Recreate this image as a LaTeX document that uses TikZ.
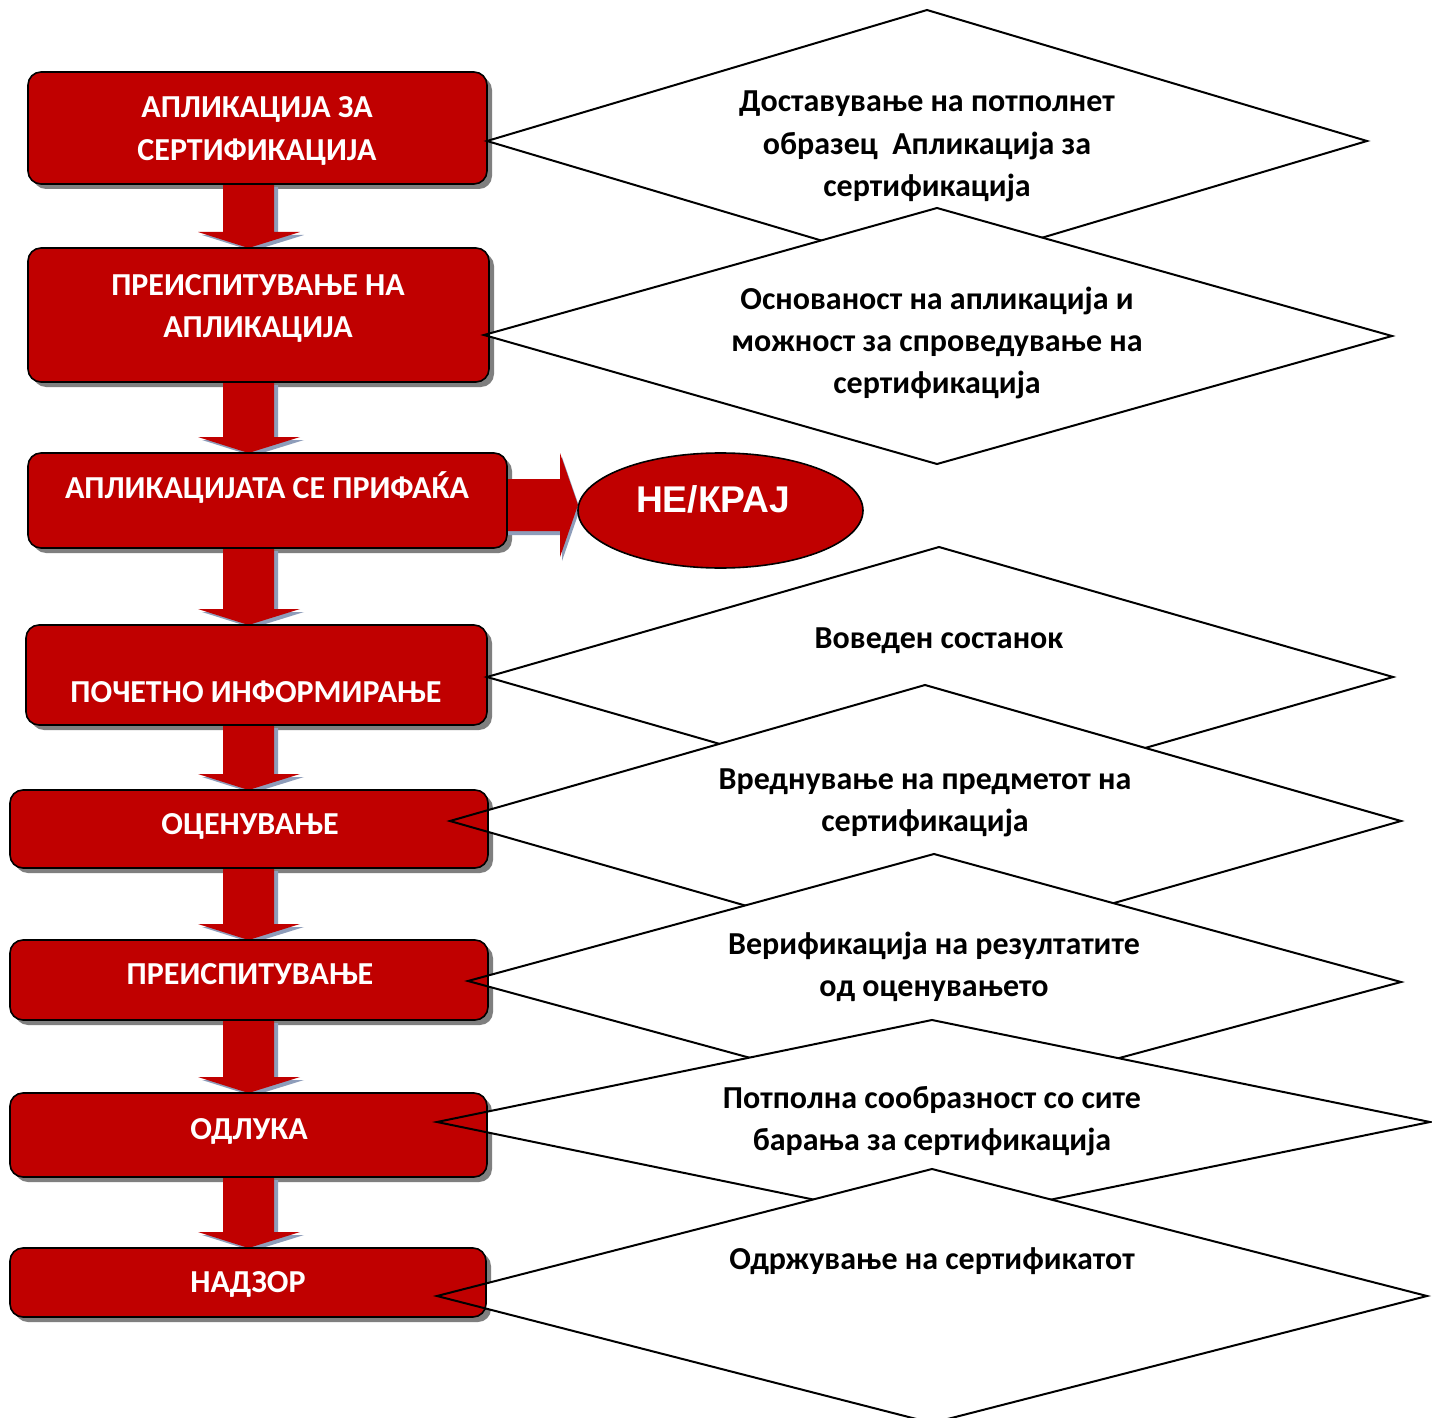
\documentclass[tikz,border=0pt]{standalone}
\usepackage{fontspec}
\newfontfamily\carlito{Carlito}
\newfontfamily\arialf{Liberation Sans}
\usetikzlibrary{calc,shapes.geometric}
\pgfdeclarelayer{bg}
\pgfdeclarelayer{bshadow}
\pgfdeclarelayer{arrowl}
\pgfdeclarelayer{diam}
\pgfdeclarelayer{top}
\pgfsetlayers{bg,bshadow,arrowl,diam,main,top}
\definecolor{boxred}{HTML}{C00000}
\definecolor{shadowgray}{HTML}{7F7F7F}
\definecolor{arrowshadow}{HTML}{8E9DBA}
\tikzset{
  box/.style={draw=black, line width=0.8pt, fill=boxred, rounded corners=6.5pt, inner sep=0pt, outer sep=0pt},
  boxtext/.style={text=white, font=\carlito\bfseries\fontsize{16}{19}\selectfont, inner sep=0pt, text height=10.1pt, text depth=0pt},
  dtext/.style={text=black, font=\carlito\bfseries\fontsize{16}{19}\selectfont, inner sep=0pt, text height=10.1pt, text depth=0pt},
  dline/.style={draw=black, line width=1pt, line join=miter},
  dfill/.style={dline, fill=white},
}
\newcommand\rbox[5]{\node[box, minimum width={(#4-#2)*0.5pt}, minimum height={(#5-#3)*0.5pt}] (#1) at ({(#2+#4)/2},{(#3+#5)/2}) {};}
\newcommand\diamondpts[9]{%
  \coordinate (#1-l) at (#2,#3);
  \coordinate (#1-t) at (#4,#5);
  \coordinate (#1-r) at (#6,#7);
  \coordinate (#1-b) at (#8,#9);}
% down block arrow path between two box nodes, with offset #3
\newcommand\downpath[3]{($(ax |- #1.south)+(-25.5,0)+#3$) -- ($(ax |- #1.south)+(25.5,0)+#3$) -- ($(ax |- #2.north)+(25.5,-16)+#3$) -- ($(ax |- #2.north)+(51.5,-16)+#3$) -- ($(ax |- #2.north)+#3$) -- ($(ax |- #2.north)+(-50.5,-16)+#3$) -- ($(ax |- #2.north)+(-25.5,-16)+#3$) -- cycle}
\newcommand\rightpath[1]{($(b3.east |- ay)+(-3,-26)+#1$) -- ($(e.west |- ay)+(-18,-26)+#1$) -- ($(e.west |- ay)+(-18,-52)+#1$) -- ($(e.west |- ay)+#1$) -- ($(e.west |- ay)+(-18,52)+#1$) -- ($(e.west |- ay)+(-18,26)+#1$) -- ($(b3.east |- ay)+(-3,26)+#1$) -- cycle}
\begin{document}
\begin{tikzpicture}[x=0.5pt,y=-0.5pt]
\useasboundingbox (0,0) rectangle (1432,1418);
\begin{pgfonlayer}{bg}
  \fill[white] (0,0) rectangle (1432,1418);
\end{pgfonlayer}

% boxes
\rbox{b1}{28}{72}{487}{184}
\rbox{b2}{28}{248}{489}{382}
\rbox{b3}{28}{453}{507}{548}
\rbox{b4}{26}{625}{487}{725}
\rbox{b5}{10}{790}{488}{868}
\rbox{b6}{10}{940}{488}{1020}
\rbox{b7}{10}{1093}{487}{1177}
\rbox{b8}{10}{1248}{486}{1317}

% end ellipse
\node[ellipse, draw=black, line width=0.8pt, fill=boxred, minimum width=142.5pt, minimum height=57.5pt, inner sep=0pt, outer sep=0pt] (e) at (720.5,510.5) {};
\node[text=white, font=\arialf\bfseries\fontsize{18.6}{21}\selectfont, inner sep=0pt, text height=13.3pt, text depth=0pt] (et) at (713,499) {НЕ/КРАЈ};

% box texts
\node[boxtext] (t1a) at (257,107) {АПЛИКАЦИЈА ЗА};
\node[boxtext] (t1b) at (257,150) {СЕРТИФИКАЦИЈА};
\node[boxtext] (t2a) at (258,285) {ПРЕИСПИТУВАЊЕ НА};
\node[boxtext] (t2b) at (258,327) {АПЛИКАЦИЈА};
\node[boxtext] (t3) at (267,488) {АПЛИКАЦИЈАТА СЕ ПРИФАЌА};
\node[boxtext] (t4) at (256,692) {ПОЧЕТНО ИНФОРМИРАЊЕ};
\node[boxtext] (t5) at (250,824) {ОЦЕНУВАЊЕ};
\node[boxtext] (t6) at (250,974) {ПРЕИСПИТУВАЊЕ};
\node[boxtext] (t7) at (249,1129) {ОДЛУКА};
\node[boxtext] (t8) at (248,1282) {НАДЗОР};

% box shadows
\begin{pgfonlayer}{bshadow}
  \foreach \n in {b1,b2,b3,b4,b5,b6,b7,b8}
    \fill[shadowgray, rounded corners=6.5pt] ($(\n.south west)+(5,5)$) rectangle ($(\n.north east)+(5,5)$);
\end{pgfonlayer}

% block arrows
\coordinate (ax) at (248.5,0);
\coordinate (ay) at (0,505);
\begin{pgfonlayer}{arrowl}
  \foreach \a/\b in {b1/b2,b2/b3,b3/b4,b4/b5,b5/b6,b6/b7,b7/b8}{
    \fill[arrowshadow] \downpath{\a}{\b}{(4,3)};
    \fill[boxred] \downpath{\a}{\b}{(0,0)};
  }
  \fill[arrowshadow] \rightpath{(2,4)};
  \fill[boxred] \rightpath{(0,0)};
\end{pgfonlayer}

% diamonds
\diamondpts{d1}{487}{141}{927}{10}{1367}{141}{927}{272}
\diamondpts{d2}{484}{335}{937}{208}{1392}{336}{937}{464}
\diamondpts{d3}{487}{677}{939}{547}{1393}{677}{939}{807}
\diamondpts{d4}{450}{821}{925}{685}{1401}{821}{925}{957}
\diamondpts{d5}{468}{981}{934}{854}{1401}{982}{934}{1108}
\diamondpts{d6}{437}{1122}{932}{1020}{1430}{1122}{932}{1224}
\diamondpts{d7}{437}{1296}{932}{1169}{1427}{1296}{932}{1423}
\begin{pgfonlayer}{diam}
  \foreach \d in {d1,d2,d3,d4,d5,d6,d7}
    \draw[dfill] (\d-l) -- (\d-t) -- (\d-r) -- (\d-b) -- cycle;
\end{pgfonlayer}
\begin{pgfonlayer}{top}
  \foreach \b/\d in {b1/d1,b2/d2,b4/d3,b5/d4,b6/d5,b7/d6,b8/d7}{
    \begin{scope}
      \clip (\b.south west) rectangle (\b.north east);
      \draw[dline] (\d-l) -- (\d-t) -- (\d-r) -- (\d-b) -- cycle;
    \end{scope}}
\end{pgfonlayer}

% diamond texts
\node[dtext] (s1a) at (927,101) {Доставување на потполнет};
\node[dtext] (s1b) at (927,144) {образец~ Апликација за};
\node[dtext] (s1c) at (927,186) {сертификација};
\node[dtext] (s2a) at (937,299) {Основаност на апликација и};
\node[dtext] (s2b) at (937,341) {можност за спроведување на};
\node[dtext] (s2c) at (937,383) {сертификација};
\node[dtext] (s3) at (939,638) {Воведен состанок};
\node[dtext] (s4a) at (925,779) {Вреднување на предметот на};
\node[dtext] (s4b) at (925,821) {сертификација};
\node[dtext] (s5a) at (934,944) {Верификација на резултатите};
\node[dtext] (s5b) at (934,986) {од оценувањето};
\node[dtext] (s6a) at (932,1098) {Потполна сообразност со сите};
\node[dtext] (s6b) at (932,1140) {барања за сертификација};
\node[dtext] (s7) at (932,1259) {Одржување на сертификатот};
\end{tikzpicture}
\end{document}
